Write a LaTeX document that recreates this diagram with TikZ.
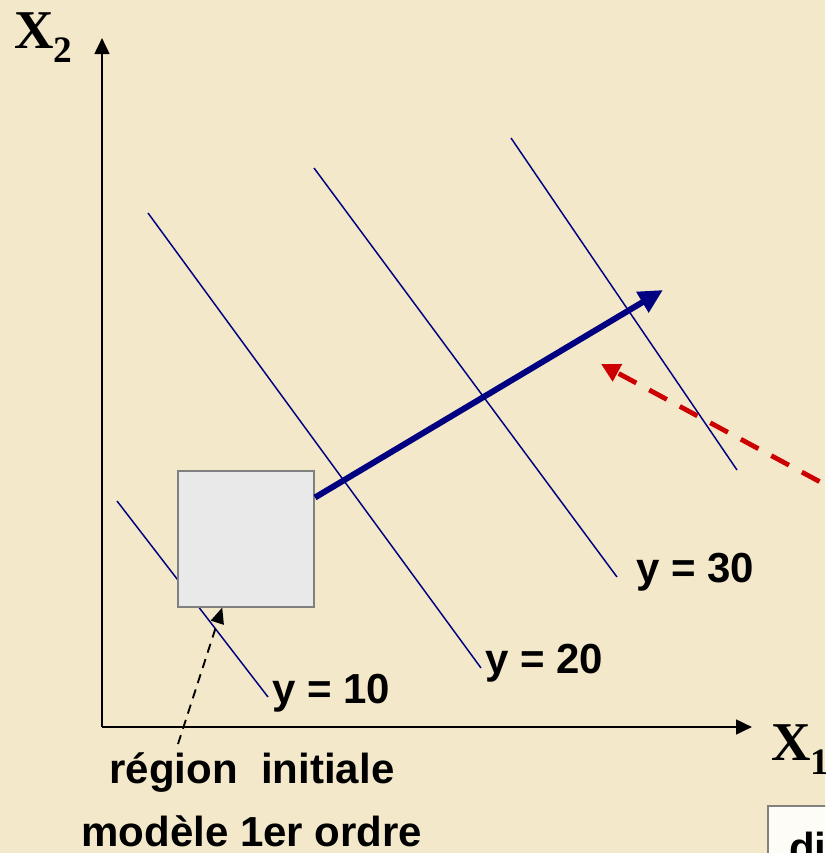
\documentclass[tikz,border=0pt]{standalone}
\usepackage{fontspec}
\setmainfont{Liberation Serif}
\setsansfont{Liberation Sans}
\usetikzlibrary{arrows.meta}
\definecolor{parch}{HTML}{F4E8CA}
\definecolor{navyc}{HTML}{000080}
\definecolor{redc}{HTML}{CC0000}
\definecolor{boxfill}{HTML}{E9E9E9}
\definecolor{boxdraw}{HTML}{808080}
\tikzset{
  axisline/.style={line width=2pt,-{Triangle[length=12pt,width=11pt]}},
  isoline/.style={draw=navyc,line width=1.1pt},
  steeparrow/.style={draw=navyc,line width=4.5pt,-{Triangle[length=18pt,width=17pt]},fill=navyc},
  redarrow/.style={draw=redc,line width=3.6pt,dash pattern=on 15pt off 11pt,-{Triangle[length=14pt,width=14pt]}},
  blackdash/.style={draw=black,line width=1.4pt,dash pattern=on 7pt off 5pt,-{Triangle[length=12pt,width=10pt]}},
  lbl/.style={font=\sffamily\bfseries\fontsize{31.5}{36}\selectfont,inner sep=0pt},
  axlbl/.style={font=\bfseries\fontsize{41}{41}\selectfont,inner sep=0pt},
  regionbox/.style={draw=boxdraw,line width=1.5pt,fill=boxfill,minimum width=102pt,minimum height=102pt,inner sep=0pt},
  notebox/.style={draw=boxdraw,line width=1.5pt,fill=white!85!parch}
}
\begin{document}
\begin{tikzpicture}[x=0.75pt,y=-0.75pt]
\useasboundingbox (0,0) rectangle (825,853);
\clip (0,0) rectangle (825,853);
\fill[parch] (0,0) rectangle (825,853);
% axes
\coordinate (O) at (102,727);
\coordinate (ytip) at (102,38);
\coordinate (xtip) at (752,727);
\draw[axisline] (O) -- (ytip);
\draw[axisline] (O) -- (xtip);
\node[axlbl,anchor=base west] (x2) at (14,48) {X\raisebox{-10.5pt}{\fontsize{28}{28}\selectfont 2}};
\node[axlbl,anchor=base west] (x1) at (771,760) {X\raisebox{-10.5pt}{\fontsize{28}{28}\selectfont 1}};
% iso lines
\coordinate (a1) at (117,501); \coordinate (b1) at (268,697);
\coordinate (a2) at (148,213); \coordinate (b2) at (481,668);
\coordinate (a3) at (314,168); \coordinate (b3) at (617,577);
\coordinate (a4) at (511,138); \coordinate (b4) at (737,470);
\draw[isoline] (a1) -- (b1);
\draw[isoline] (a2) -- (b2);
\draw[isoline] (a3) -- (b3);
\draw[isoline] (a4) -- (b4);
% region box
\node[regionbox] (box) at (246,538.5) {};
% steepest ascent arrow
\coordinate (stip) at (663,290);
\draw[steeparrow] (box) -- (stip);
% red dashed arrow
\coordinate (rstart) at (850,498);
\coordinate (rtip) at (601,364);
\draw[redarrow] (rstart) -- (rtip);
% labels
\node[lbl,anchor=base west] (l10) at (272,703) {y = 10};
\node[lbl,anchor=base west] (l20) at (485,673) {y = 20};
\node[lbl,anchor=base west] (l30) at (636,582) {y = 30};
\node[lbl,anchor=base] (reg) at (252,783) {région\ \ initiale};
\node[lbl,anchor=base] (mod) at (252,846) {modèle 1er ordre};
\coordinate (dstart) at (178,744);
\draw[blackdash] (dstart) -- (box.251);
% note box (cut off at the edge, as in the reference)
\node[notebox,anchor=north west,minimum width=120pt,minimum height=80pt] (note) at (767,805) {};
\node[lbl,anchor=base west] (notetxt) at (789,862) {di};
\end{tikzpicture}
\end{document}
